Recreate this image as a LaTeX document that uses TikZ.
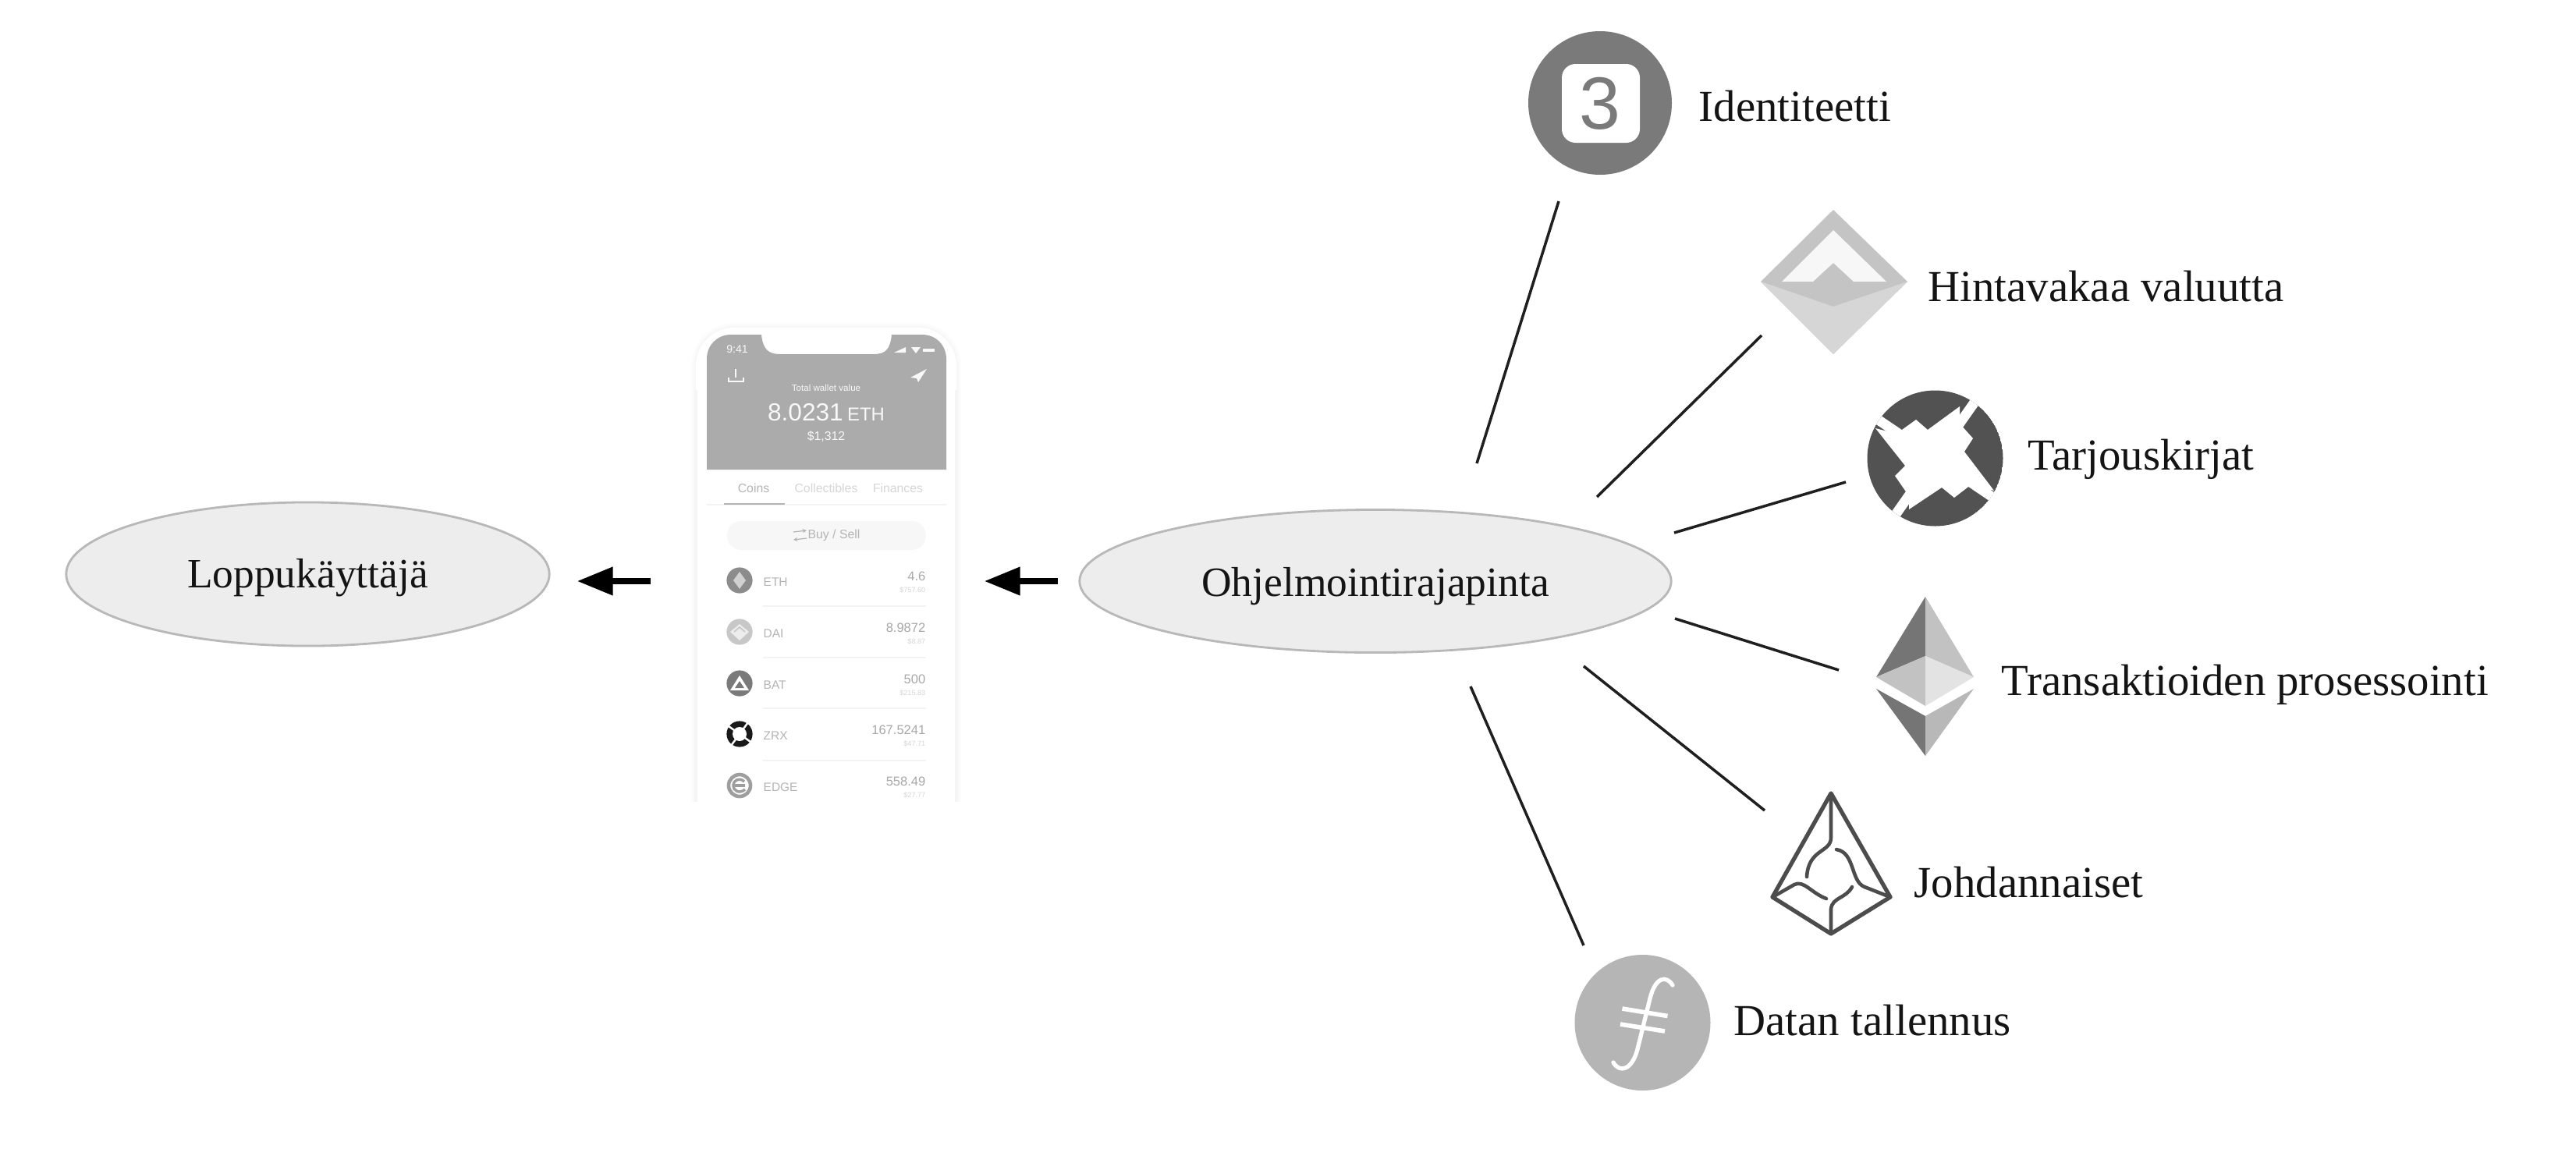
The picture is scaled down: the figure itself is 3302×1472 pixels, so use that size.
\documentclass[tikz,border=0pt]{standalone}
\usepackage{fontspec}
\setmainfont{Liberation Serif}
\newfontfamily\phonefont{Liberation Sans}
\usetikzlibrary{arrows.meta,shapes.geometric}
\definecolor{ellfill}{HTML}{EDEDED}
\definecolor{elldraw}{HTML}{B8B8B8}
\definecolor{hdr}{HTML}{ABABAB}
\definecolor{ptxt}{HTML}{B4B4B4}
\definecolor{pnum}{HTML}{A8A8A8}
\definecolor{psub}{HTML}{D6D6D6}
\definecolor{psep}{HTML}{F3F3F3}
\tikzset{
  oval/.style={ellipse,draw=elldraw,fill=ellfill,line width=.8pt,inner sep=0pt,font=\fontsize{15.2}{18}\selectfont,text=black!92},
  lab/.style={anchor=west,inner sep=0pt,font=\fontsize{16.15}{18}\selectfont,text=black!92},
  link/.style={draw=black!88,line width=1pt},
  flow/.style={draw=black,line width=2pt,-{Triangle[length=13pt,width=10pt]}},
  ptext/.style={inner sep=0pt,text=ptxt,font=\phonefont\fontsize{4.5}{5}\selectfont},
  hdrtext/.style={inner sep=0pt,text=white!92!hdr},
  pright/.style={inner sep=0pt,anchor=east,text=pnum,font=\phonefont\fontsize{4.7}{5}\selectfont},
  psubt/.style={inner sep=0pt,anchor=east,text=psub,font=\phonefont\fontsize{2.6}{3}\selectfont},
  rowlab/.style={inner sep=0pt,anchor=west,text=ptxt,font=\phonefont\fontsize{4.4}{5}\selectfont},
}
\def\phonebody{(892,1040) -- (892,470) .. controls (892,442) and (914,420) .. (942,420) -- (1176,420) .. controls (1204,420) and (1226,442) .. (1226,470) -- (1226,1040)}
\begin{document}
\begin{tikzpicture}[x=0.01cm,y=-0.01cm]
\useasboundingbox (0,0) rectangle (3302,1472);
\fill[white] (0,0) rectangle (3302,1472);

% ---- ovals
\node[oval,minimum width=6.19cm,minimum height=1.84cm,text height=13.3pt,text depth=3.3pt] (user) at (394.5,736) {Loppukäyttäjä};
\node[oval,minimum width=7.58cm,minimum height=1.83cm,text height=14.5pt,text depth=3.3pt] (api) at (1763,745) {Ohjelmointirajapinta};

% ---- phone
\begin{scope}
\clip (860,400) rectangle (1260,1027);
\draw[black!1,line width=3.4pt] \phonebody;
\draw[black!2,line width=2.2pt] \phonebody;
\draw[black!3,line width=1.1pt] \phonebody;
\fill[white] \phonebody -- cycle;
\draw[black!4,line width=1.2pt] (892,1040) -- (892,500);
\draw[black!4,line width=1.2pt] (1226,1040) -- (1226,500);
\end{scope}
\fill[hdr] (906,602) -- (906,460) .. controls (906,443) and (919,429) .. (937,429) -- (976,429)
  .. controls (978,448) and (985,454) .. (1000,454) -- (1120,454)
  .. controls (1135,454) and (1141,448) .. (1143,429) -- (1182,429)
  .. controls (1200,429) and (1213,443) .. (1213,460) -- (1213,602) -- cycle;
\node[hdrtext,font=\phonefont\fontsize{4}{5}\selectfont] (time) at (945,448) {9:41};
\fill[white!92!hdr] (1146,452) -- (1161,452) -- (1161,445) -- cycle;
\fill[white!92!hdr] (1168,445) -- (1180,445) -- (1174,453) -- cycle;
\fill[white!92!hdr] (1183,447) rectangle (1198,451);
\draw[white!92!hdr,line width=.5pt] (934,484) -- (934,489) -- (953,489) -- (953,484);
\draw[white!92!hdr,line width=.5pt] (943,473) -- (943,484);
\fill[white!92!hdr] (1167,484) -- (1188,473) -- (1177,490) -- (1175,485) -- cycle;
\node[hdrtext,font=\phonefont\fontsize{3.3}{4}\selectfont] (total) at (1059,497) {Total wallet value};
\node[hdrtext,font=\phonefont\fontsize{9}{10}\selectfont] (amount) at (1059,529) {8.0231\,{\fontsize{6.8}{8}\selectfont ETH}};
\node[hdrtext,font=\phonefont\fontsize{4.5}{5}\selectfont] (fiat) at (1059,560) {\$1,312};

\node[ptext] (tab1) at (966,626) {Coins};
\node[ptext,text=psub] (tab2) at (1059,626) {Collectibles};
\node[ptext,text=psub] (tab3) at (1151,626) {Finances};
\draw[psep,line width=.4pt] (906,647) -- (1213,647);
\draw[ptxt,line width=.5pt] (928,646) -- (1006,646);

\fill[black!3] (950,668) rectangle (1169,705);
\fill[black!3] (950,686.5) circle[x radius=18,y radius=18.5];
\fill[black!3] (1169,686.5) circle[x radius=18,y radius=18.5];
\draw[ptxt,line width=.35pt,-{Stealth[length=1.5pt,width=1.5pt]}] (1017,682) -- (1034,680);
\draw[ptxt,line width=.35pt,-{Stealth[length=1.5pt,width=1.5pt]}] (1034,690) -- (1017,692);
\node[ptext] (buysell) at (1069,686) {Buy / Sell};

% rows
\foreach \y in {777,843,908,975}{ \draw[psep,line width=.5pt] (978,\y) -- (1187,\y); }
% ETH
\fill[black!45] (948,744) circle (16.6);
\fill[black!18] (948,733) -- (956,744) -- (948,755) -- (940,744) -- cycle;
\node[rowlab] (r1) at (978,746) {ETH};
\node[pright] (n1) at (1187,739) {4.6};
\node[psubt] (s1) at (1187,756) {\$757.60};
% DAI
\fill[black!22] (948,810) circle (16.6);
\fill[black!7] (948,800) -- (960,810) -- (948,821) -- (936,810) -- cycle;
\draw[black!22,line width=.5pt] (941,810) -- (948,804) -- (955,810);
\node[rowlab] (r2) at (978,812) {DAI};
\node[pright] (n2) at (1187,805) {8.9872};
\node[psubt] (s2) at (1187,822) {\$8.87};
% BAT
\fill[black!52] (948,876) circle (16.6);
\fill[white] (948,866) -- (960,885) -- (936,885) -- cycle;
\fill[black!52] (948,873) -- (954,882) -- (942,882) -- cycle;
\node[rowlab] (r3) at (978,878) {BAT};
\node[pright] (n3) at (1187,871) {500};
\node[psubt] (s3) at (1187,888) {\$215.83};
% ZRX
\fill[black!90] (948,941) circle (16.6);
\fill[white] (948,941) circle (9);
\draw[white,line width=.7pt] (934,931) -- (962,951);
\draw[white,line width=.7pt] (937,956) -- (959,926);
\node[rowlab] (r4) at (978,943) {ZRX};
\node[pright] (n4) at (1187,936) {167.5241};
\node[psubt] (s4) at (1187,953) {\$47.71};
% EDGE
\draw[black!38,line width=1.3pt] (948,1007) circle (14);
\draw[black!38,line width=1pt] (955,1007) -- (941,1007);
\draw[black!38,line width=1pt] (954,1002) .. controls (948,996) and (940,1000) .. (940,1007) .. controls (940,1014) and (948,1018) .. (955,1012);
\node[rowlab] (r5) at (978,1009) {EDGE};
\node[pright] (n5) at (1187,1002) {558.49};
\node[psubt] (s5) at (1187,1019) {\$27.77};

% ---- icon: 3ID
\fill[black!52] (2051,132) circle (92);
\fill[white,rounded corners=5pt] (2002,82) rectangle (2102,183);
\node[inner sep=0pt,text=black!52,font=\phonefont\fontsize{27}{30}\selectfont] (three) at (2051,133) {3};
\node[lab] (l1) at (2177,136) {Identiteetti};

% ---- icon: DAI diamond
\fill[black!23] (2350,269) -- (2445,361) -- (2350,454) -- (2257,361) -- cycle;
\fill[black!16] (2257,361) -- (2350,393) -- (2445,361) -- (2350,454) -- cycle;
\fill[black!3] (2350,295) -- (2418,361) -- (2376,361) -- (2350,337) -- (2324,361) -- (2284,361) -- cycle;
\node[lab] (l2) at (2471,367) {Hintavakaa valuutta};

% ---- icon: 0x
\begin{scope}
\clip (2480.5,587.5) circle (87);
\fill[black!68] (2480.5,587.5) circle (87);
\fill[white] (2431,556) -- (2456,538) -- (2471,551) -- (2512,521) -- (2512,543) -- (2529,562) -- (2518,579) -- (2556,629)
  -- (2527,621) -- (2505,638) -- (2489,625) -- (2447,653) -- (2447,636) -- (2429,610) -- (2442,597) -- (2404,549) -- cycle;
\draw[white,line width=3.6pt] (2391,527) -- (2570,648);
\draw[white,line width=3.6pt] (2419,675) -- (2542,500);
\end{scope}
\node[lab] (l3) at (2599,589) {Tarjouskirjat};

% ---- icon: Ethereum
\fill[black!54] (2468,765) -- (2468,841) -- (2405,868) -- cycle;
\fill[black!24] (2468,765) -- (2468,841) -- (2530,868) -- cycle;
\fill[black!24] (2405,868) -- (2468,841) -- (2468,905) -- cycle;
\fill[black!11] (2530,868) -- (2468,841) -- (2468,905) -- cycle;
\fill[black!54] (2405,883) -- (2468,918) -- (2468,969) -- cycle;
\fill[black!28] (2530,883) -- (2468,918) -- (2468,969) -- cycle;
\node[lab] (l4) at (2565,878) {Transaktioiden prosessointi};

% ---- icon: Augur
\begin{scope}[draw=black!70,line width=1.3pt,line join=round,line cap=round]
\draw[line width=1.5pt] (2347,1017) -- (2272,1150) -- (2347,1197) -- (2423,1150) -- cycle;
\draw (2347,1018) -- (2347,1074) .. controls (2347,1093) and (2318,1088) .. (2316,1124);
\draw (2354,1089) .. controls (2378,1093) and (2372,1130) .. (2390,1137) -- (2423,1150);
\draw (2347,1197) -- (2347,1165) .. controls (2349,1150) and (2366,1152) .. (2374,1137);
\draw (2272,1150) -- (2300,1134) .. controls (2312,1128) and (2322,1145) .. (2341,1152);
\end{scope}
\node[lab] (l5) at (2453,1131) {Johdannaiset};

% ---- icon: Filecoin
\fill[black!29] (2105.5,1311) circle (87);
\draw[white,line width=1.5pt,line cap=round] (2144,1263) .. controls (2136,1250) and (2122,1252) .. (2115,1280) -- (2099,1345) .. controls (2092,1372) and (2076,1376) .. (2068,1362);
\draw[white,line width=1.6pt] (2079.5,1293) -- (2137.5,1302.5);
\draw[white,line width=1.6pt] (2077,1313) -- (2134,1322);
\node[lab] (l6) at (2222,1308) {Datan tallennus};

% ---- connectors
\coordinate (c1a) at (1893,594); \coordinate (c1b) at (1998,258);
\coordinate (c2a) at (2047,637); \coordinate (c2b) at (2258,430);
\coordinate (c3a) at (2146,683); \coordinate (c3b) at (2366,618);
\coordinate (c4a) at (2147,793); \coordinate (c4b) at (2357,859);
\coordinate (c5a) at (2030,854); \coordinate (c5b) at (2262,1039);
\coordinate (c6a) at (1885,880); \coordinate (c6b) at (2030,1212);
\draw[link] (c1a) -- (c1b);
\draw[link] (c2a) -- (c2b);
\draw[link] (c3a) -- (c3b);
\draw[link] (c4a) -- (c4b);
\draw[link] (c5a) -- (c5b);
\draw[link] (c6a) -- (c6b);
\coordinate (f1a) at (834,745); \coordinate (f1b) at (740,745);
\coordinate (f2a) at (1356,745); \coordinate (f2b) at (1262,745);
\draw[flow] (f1a) -- (f1b);
\draw[flow] (f2a) -- (f2b);
\end{tikzpicture}
\end{document}
